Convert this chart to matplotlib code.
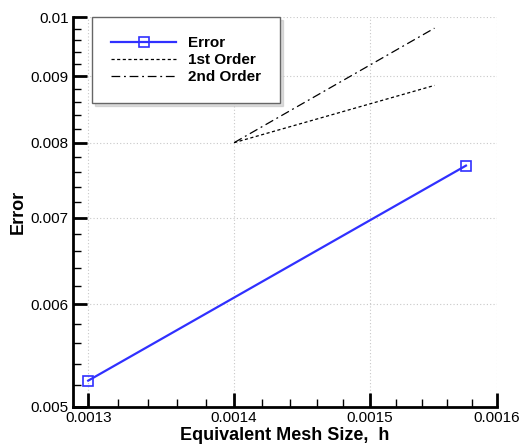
import matplotlib
matplotlib.use("Agg")
import matplotlib.pyplot as plt
from matplotlib.ticker import FixedLocator, NullFormatter

plt.rcParams['font.family'] = ['Liberation Sans', 'DejaVu Sans']

# mesh size vs. error
h = [0.0013, 0.001575]
err = [0.00524, 0.00768]

# reference slopes starting from a common point
h_ref = [0.0014, 0.00155]
first_order = [0.008, 0.008 * (0.00155 / 0.0014)]
second_order = [0.008, 0.008 * (0.00155 / 0.0014) ** 2]

xticks = [0.0013, 0.0014, 0.0015, 0.0016]
xticklabels = ['0.0013', '0.0014', '0.0015', '0.0016']
yticks = [0.005, 0.006, 0.007, 0.008, 0.009, 0.01]
yticklabels = ['0.005', '0.006', '0.007', '0.008', '0.009', '0.01']

fig = plt.figure(figsize=(5.26, 4.45), dpi=100)
ax = fig.add_axes([0.1388, 0.0854, 0.806, 0.876])

ax.plot(h, err, color='#3030ff', lw=1.6, marker='s', ms=7.5, mfc='none',
        mec='#3030ff', mew=1.2, label='Error')
ax.plot(h_ref, first_order, color='black', lw=0.9, ls=(0, (2.5, 2)), label='1st Order')
ax.plot(h_ref, second_order, color='black', lw=0.9, ls=(0, (7, 3, 1.5, 3)), label='2nd Order')

ax.set_xscale('log')
ax.set_yscale('log')
ax.set_xlim(0.00129, 0.0016)
ax.set_ylim(0.005, 0.01)

ax.xaxis.set_major_locator(FixedLocator(xticks))
ax.set_xticklabels(xticklabels)
ax.xaxis.set_minor_locator(FixedLocator([0.0013 + 0.00002 * i for i in range(16) if i % 5]))
ax.xaxis.set_minor_formatter(NullFormatter())
ax.yaxis.set_major_locator(FixedLocator(yticks))
ax.set_yticklabels(yticklabels)
ax.yaxis.set_minor_locator(FixedLocator([0.005 + 0.0002 * i for i in range(25) if i % 5]))
ax.yaxis.set_minor_formatter(NullFormatter())

ax.tick_params(which='major', direction='in', length=10, width=2, labelsize=11, pad=3)
ax.tick_params(which='minor', direction='in', length=6, width=1)

for side in ['top', 'right']:
    ax.spines[side].set_visible(False)
for side in ['left', 'bottom']:
    ax.spines[side].set_linewidth(2)

ax.grid(True, which='major', color='#c8c8c8', ls=(0, (1, 2)), lw=0.8)
ax.set_axisbelow(True)

ax.set_xlabel('Equivalent Mesh Size,  h', fontsize=13, fontweight='bold', labelpad=1)
ax.set_ylabel('Error', fontsize=13, fontweight='bold', labelpad=3)

leg = ax.legend(loc='upper left', bbox_to_anchor=(0.045, 1.0), borderaxespad=0,
                frameon=True, fancybox=False, shadow={'color': '#bbbbbb'},
                handlelength=4.25, handletextpad=0.8, labelspacing=0.2, borderpad=1.25,
                prop={'weight': 'bold', 'size': 11})
leg.get_frame().set_edgecolor('#666666')
leg.get_frame().set_linewidth(1)

fig.savefig('out.png', dpi=100)
